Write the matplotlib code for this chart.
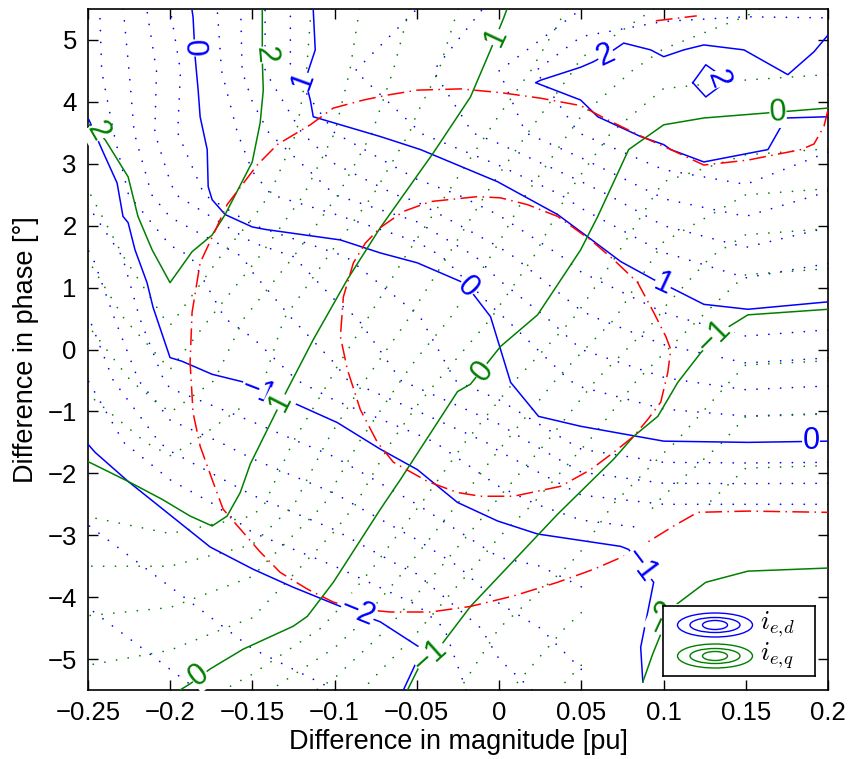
import numpy as np
import matplotlib
matplotlib.use("Agg")
import matplotlib.pyplot as plt
from matplotlib.patches import Ellipse

plt.rcParams['font.family'] = ['Liberation Sans', 'DejaVu Sans']
plt.rcParams['mathtext.fontset'] = 'cm'

# ---------------- data: solid contour lines ----------------
# blue  (i_e,d)
bd_m2_x = [-0.25, -0.2457, -0.2256, -0.1757, -0.1495, -0.1252, -0.0965, -0.0722, -0.0466, -0.0582]
bd_m2_y = [-1.53, -1.66, -2.13, -3.19, -3.55, -3.84, -4.15, -4.40, -4.84, -5.50]

bd_m1_x = [-0.2494, -0.2415, -0.2323, -0.2287, -0.2256, -0.2214, -0.2141, -0.2104, -0.2001, -0.1928,
           -0.1745, -0.1562, -0.1361, -0.0984, -0.0722, -0.0497, -0.0253, -0.0009, 0.0234, 0.0740,
           0.0788, 0.0940, 0.0861, 0.0874]
bd_m1_y = [3.71, 3.23, 2.69, 2.15, 2.05, 1.61, 1.08, 0.68, -0.13, -0.19,
           -0.40, -0.52, -0.73, -1.18, -1.61, -1.94, -2.47, -2.77, -2.98, -3.18,
           -3.23, -3.76, -4.81, -5.37]

bd_0_x = [-0.1867, -0.1861, -0.1848, -0.1830, -0.1818, -0.1775, -0.1769, -0.1745, -0.1666, -0.1501,
          -0.1422, -0.0965, -0.0722, -0.0497, -0.0235, -0.0156, -0.0052, 0.0070, 0.0240, 0.0496,
          0.1001, 0.1513, 0.2]
bd_0_y = [5.48, 5.37, 4.71, 4.19, 3.76, 3.23, 2.63, 2.42, 2.18, 1.98,
          1.94, 1.77, 1.56, 1.40, 1.10, 0.89, 0.53, -0.53, -1.08, -1.24,
          -1.48, -1.50, -1.48]

bd_1_x = [-0.1130, -0.1118, -0.1179, -0.1148, -0.1130, -0.0722, -0.0478, -0.0009, 0.0356, 0.0539,
          0.0740, 0.0940, 0.1044, 0.1245, 0.1513, 0.2]
bd_1_y = [5.48, 4.84, 4.35, 4.03, 3.76, 3.44, 3.23, 2.71, 2.18, 1.82,
          1.42, 1.13, 1.00, 0.73, 0.65, 0.77]

bd_2_x = [0.2, 0.1915, 0.1756, 0.1489, 0.1245, 0.1123, 0.1001, 0.0922, 0.0758, 0.0697,
          0.0648, 0.0575, 0.0496, 0.0252, 0.0222, 0.0496, 0.0600, 0.0861, 0.1001, 0.1044,
          0.1245, 0.1635, 0.1744, 0.2]
bd_2_y = [5.08, 4.81, 4.44, 4.84, 4.92, 4.84, 4.73, 4.84, 4.95, 4.84,
          4.76, 4.65, 4.56, 4.35, 4.31, 4.03, 3.76, 3.44, 3.31, 3.23,
          3.03, 3.23, 3.74, 3.76]

bd_2i_x = [0.1178, 0.1257, 0.1391, 0.1257, 0.1178]
bd_2i_y = [4.31, 4.60, 4.35, 4.08, 4.31]

# green (i_e,q)
gq_2_x = [-0.25, -0.2396, -0.2256, -0.2196, -0.2110, -0.2001, -0.1867, -0.1745, -0.1666, -0.1501,
          -0.1453, -0.1434, -0.1440, -0.1440]
gq_2_y = [3.65, 3.39, 2.79, 2.15, 1.61, 1.08, 1.58, 1.85, 2.18, 3.03,
          3.66, 4.19, 4.68, 5.48]

gq_1_x = [-0.25, -0.2256, -0.2049, -0.1879, -0.1745, -0.1654, -0.1574, -0.1513, -0.1349, -0.1288,
          -0.1130, -0.0923, -0.0722, -0.0399, -0.0174, -0.0052, 0.0027, 0.0045]
gq_1_y = [-1.81, -2.13, -2.42, -2.69, -2.85, -2.69, -2.31, -1.85, -0.97, -0.65,
          0.16, 1.13, 1.97, 3.18, 4.08, 4.84, 5.35, 5.48]

gq_0_x = [-0.1940, -0.1879, -0.1757, -0.1556, -0.1252, -0.1166, -0.1008, -0.0722, -0.0600, -0.0253,
          -0.0174, 0.0009, 0.0234, 0.0496, 0.0600, 0.0788, 0.1001, 0.1245, 0.2]
gq_0_y = [-5.50, -5.40, -5.16, -4.84, -4.47, -4.31, -3.76, -2.58, -2.10, -0.68,
          -0.56, 0.05, 0.56, 1.61, 2.15, 3.23, 3.63, 3.74, 3.90]

gq_m1_x = [-0.0557, -0.0478, -0.0357, -0.0174, 0.0356, 0.0697, 0.0819, 0.0965, 0.1087, 0.1227,
           0.1367, 0.1513, 0.2]
gq_m1_y = [-5.50, -5.08, -4.79, -4.15, -2.66, -1.77, -1.40, -1.08, -0.53, -0.05,
           0.32, 0.56, 0.65]

gq_m2_x = [0.0874, 0.0934, 0.0995, 0.1062, 0.1257, 0.1513, 0.2]
gq_m2_y = [-5.37, -4.92, -4.52, -4.15, -3.76, -3.58, -3.53]

# red dash-dot curves
red_outer_x = [0.2, 0.1976, 0.1915, 0.1836, 0.1513, 0.1245, 0.1044, 0.0861, 0.0660, 0.0496,
               0.0252, 0.0009, -0.0235, -0.0497, -0.0679, -0.0825, -0.1008, -0.1148, -0.1349, -0.1471,
               -0.1654, -0.1739, -0.1818, -0.1867, -0.1879, -0.1861, -0.1818, -0.1745, -0.1678, -0.1574,
               -0.1453, -0.1331, -0.1166, -0.1008, -0.0862, -0.0661, -0.0417, -0.0174, 0.0088, 0.0356,
               0.0575, 0.0758, 0.0904, 0.1062, 0.1208, 0.1513, 0.2]
red_outer_y = [3.87, 3.61, 3.32, 3.23, 3.06, 2.98, 3.23, 3.45, 3.71, 3.94,
               4.06, 4.15, 4.21, 4.19, 4.11, 4.03, 3.90, 3.63, 3.31, 2.98,
               2.34, 1.85, 1.40, 0.60, -0.21, -1.02, -1.56, -2.10, -2.58, -2.90,
               -3.27, -3.60, -3.87, -4.08, -4.19, -4.24, -4.24, -4.15, -3.98, -3.76,
               -3.55, -3.34, -3.11, -2.85, -2.63, -2.61, -2.63]

red_inner_x = [-0.0722, -0.0582, -0.0417, -0.0131, 0.0009, 0.0173, 0.0356, 0.0514, 0.0557, 0.0697,
               0.0843, 0.0940, 0.1014, 0.1044, 0.1026, 0.0983, 0.0904, 0.0819, 0.0697, 0.0557,
               0.0374, 0.0088, -0.0113, -0.0253, -0.0436, -0.0643, -0.0740, -0.0844, -0.0923, -0.0965,
               -0.0947, -0.0886, -0.0813, -0.0722]
red_inner_y = [1.97, 2.23, 2.39, 2.47, 2.45, 2.34, 2.15, 1.85, 1.77, 1.45,
               1.08, 0.60, 0.21, 0.00, -0.37, -0.85, -1.13, -1.40, -1.66, -1.94,
               -2.21, -2.37, -2.37, -2.31, -2.13, -1.82, -1.50, -0.97, -0.32, 0.21,
               0.85, 1.40, 1.72, 1.97]

red_top_x = [0.0953, 0.1202]
red_top_y = [5.31, 5.39]

# ---------------- data: coarse fields for the dotted contour levels ----------------
grid_x = [-0.25, -0.2, -0.15, -0.1, -0.05, 0.0, 0.05, 0.1, 0.15, 0.2]
grid_y = [5.5, 4.5, 3.5, 2.5, 1.5, 0.5, -0.5, -1.5, -2.5, -3.5, -4.5, -5.5]
nan = np.nan
blue_grid = [
    [-0.9, -0.2, 0.5, 1.15, 1.2, 1.45, 1.6, 1.7, 1.75, 1.75],
    [-0.9, -0.3, 0.5, 1.15, 1.35, 1.6, 2.05, 2.2, 2.15, 2.1],
    [-1.05, -0.25, 0.3, 0.8, 1.19, 1.5, 1.81, 2.05, 2.1, 1.9],
    [-1.15, -0.44, 0.14, 0.4, 0.67, 0.93, 1.29, 1.63, 1.74, 1.58],
    [-1.43, -0.88, -0.56, -0.24, 0.05, 0.54, 0.88, 1.17, 1.34, 1.24],
    [-1.61, -0.96, -0.72, -0.47, -0.22, 0.17, 0.56, 0.76, 0.93, 0.88],
    [-1.8, -1.15, -0.98, -0.65, -0.34, -0.04, 0.24, 0.38, 0.47, 0.44],
    [-2.0, -1.54, -1.31, -1.12, -0.87, -0.55, -0.14, -0.01, 0.0, -0.01],
    [-2.15, -1.97, -1.65, -1.46, -1.2, -0.9, -0.68, -0.6, -0.6, -0.6],
    [-2.3, -2.15, -1.98, -1.8, -1.55, -1.25, -1.15, nan, nan, nan],
    [-2.45, -2.3, -2.15, -2.05, -1.95, -1.5, -1.3, nan, nan, nan],
    [-2.6, -2.45, -2.3, -2.2, -1.95, -1.7, -1.45, nan, nan, nan],
]
green_grid = [
    [2.3, 2.3, 2.05, 1.7, 1.37, 1.03, 0.75, 0.58, 0.42, 0.3],
    [2.25, 2.3, 2.05, 1.67, 1.29, 0.95, 0.56, 0.3, 0.25, 0.22],
    [1.97, 2.2, 2.03, 1.6, 1.16, 0.74, 0.34, -0.05, -0.09, -0.12],
    [1.79, 2.1, 1.9, 1.42, 0.95, 0.53, 0.13, -0.24, -0.4, -0.43],
    [1.61, 2.05, 1.64, 1.16, 0.74, 0.36, -0.02, -0.45, -0.71, -0.74],
    [1.42, 1.83, 1.35, 0.96, 0.56, 0.16, -0.24, -0.63, -1.02, -1.05],
    [1.24, 1.55, 1.27, 0.77, 0.31, -0.12, -0.53, -0.93, -1.26, -1.27],
    [1.06, 1.26, 1.04, 0.55, 0.04, -0.37, -0.77, -1.15, -1.5, -1.51],
    [0.85, 0.98, 0.88, 0.33, -0.18, -0.63, -1.05, -1.44, -1.74, -1.75],
    [0.6, 0.6, 0.45, 0.03, -0.45, -0.95, -1.25, nan, nan, nan],
    [0.35, 0.3, 0.15, -0.27, -0.78, -1.2, -1.45, nan, nan, nan],
    [0.1, 0.02, -0.32, -0.68, -1.04, -1.35, -1.7, nan, nan, nan],
]
blue_dot_levels = [-2.4, -2.2, -1.8, -1.6, -1.4, -1.2, -0.8, -0.6, -0.4, -0.2,
                   0.2, 0.4, 0.6, 0.8, 1.2, 1.4, 1.6, 1.8]
green_dot_levels = [-1.8, -1.6, -1.4, -1.2, -0.8, -0.6, -0.4, -0.2,
                    0.2, 0.4, 0.6, 0.8, 1.2, 1.4, 1.6, 1.8]

# contour labels: (text, series, x, y, rotation)
clabels = [
    ("\u22122", "d", -0.086, -4.24, -22),
    ("\u22121", "d", -0.1465, -0.68, -21),
    ("\u22121", "d", 0.0861, -3.48, -53),
    ("0", "d", -0.1861, 4.87, -88),
    ("0", "d", -0.0192, 1.00, -45),
    ("0", "d", 0.1897, -1.48, 0),
    ("1", "d", -0.1191, 4.35, 70),
    ("1", "d", 0.0995, 1.05, -25),
    ("2", "d", 0.0648, 4.76, 25),
    ("2", "d", 0.1330, 4.37, -70),
    ("2", "q", -0.2439, 3.52, -60),
    ("2", "q", -0.1422, 4.76, -85),
    ("1", "q", -0.1331, -0.84, 63),
    ("1", "q", -0.0022, 5.05, 65),
    ("0", "q", -0.1824, -5.27, 37),
    ("0", "q", -0.0101, -0.35, 52),
    ("0", "q", 0.1696, 3.82, 3),
    ("\u22121", "q", -0.0417, -4.95, 42),
    ("\u22121", "q", 0.1306, 0.21, 45),
    ("\u22122", "q", 0.1001, -4.32, 65),
]

xticks = [-0.25, -0.2, -0.15, -0.1, -0.05, 0, 0.05, 0.1, 0.15, 0.2]
xtick_labels = ["\u22120.25", "\u22120.2", "\u22120.15", "\u22120.1", "\u22120.05", "0",
                "0.05", "0.1", "0.15", "0.2"]
yticks = [-5, -4, -3, -2, -1, 0, 1, 2, 3, 4, 5]
ytick_labels = ["\u22125", "\u22124", "\u22123", "\u22122", "\u22121", "0", "1", "2", "3", "4", "5"]

BLUE = "#0000ff"
GREEN = "#008000"
RED = "#ff0000"
col = {"d": BLUE, "q": GREEN}

# ---------------- figure ----------------
fig = plt.figure(figsize=(8.5, 7.59), dpi=100)
ax = fig.add_axes([0.1035, 0.0909, 0.8706, 0.8972])

X, Y = np.meshgrid(grid_x, grid_y)
Bz = np.ma.masked_invalid(np.array(blue_grid))
Gz = np.ma.masked_invalid(np.array(green_grid))
dot_style = (0, (0.1, 7))
cb = ax.contour(X, Y, Bz, levels=blue_dot_levels, colors=BLUE, linewidths=1.2)
cb.set_linestyle(dot_style)
cb.set_capstyle('round')
cg = ax.contour(X, Y, Gz, levels=green_dot_levels, colors=GREEN, linewidths=1.2)
cg.set_linestyle(dot_style)
cg.set_capstyle('round')

for xs, ys in [(bd_m2_x, bd_m2_y), (bd_m1_x, bd_m1_y), (bd_0_x, bd_0_y), (bd_1_x, bd_1_y),
               (bd_2_x, bd_2_y), (bd_2i_x, bd_2i_y)]:
    ax.plot(xs, ys, color=BLUE, lw=1.1, zorder=3)
for xs, ys in [(gq_2_x, gq_2_y), (gq_1_x, gq_1_y), (gq_0_x, gq_0_y), (gq_m1_x, gq_m1_y),
               (gq_m2_x, gq_m2_y)]:
    ax.plot(xs, ys, color=GREEN, lw=1.1, zorder=3)

red_ls = (0, (11, 3.5, 1, 3.5))
for xs, ys in [(red_outer_x, red_outer_y), (red_inner_x, red_inner_y), (red_top_x, red_top_y)]:
    ax.plot(xs, ys, color=RED, lw=1.1, linestyle=red_ls, zorder=4)

for txt, s, x, y, rot in clabels:
    ax.text(x, y, txt, color=col[s], fontsize=22, rotation=rot, rotation_mode='anchor',
            ha='center', va='center', zorder=5,
            bbox=dict(facecolor='white', edgecolor='none', pad=0.1))

ax.set_xlim(-0.25, 0.2)
ax.set_ylim(-5.5, 5.5)
ax.set_xticks(xticks)
ax.set_xticklabels(xtick_labels)
ax.set_yticks(yticks)
ax.set_yticklabels(ytick_labels)
ax.tick_params(direction='in', top=True, right=True, length=7, width=1.0, labelsize=18.5, pad=8)
for sp in ax.spines.values():
    sp.set_linewidth(1.2)
ax.set_xlabel("Difference in magnitude [pu]", fontsize=19.5, labelpad=3)
ax.set_ylabel("Difference in phase [\u00b0]", fontsize=19.5, labelpad=6)

# legend box
lax = fig.add_axes([663 / 850, 1 - 676 / 759, 152 / 850, 70 / 759], zorder=10)
lax.set_xlim(0, 152)
lax.set_ylim(70, 0)
lax.set_xticks([])
lax.set_yticks([])
for sp in lax.spines.values():
    sp.set_linewidth(1.2)
for cy, c in [(19, BLUE), (50, GREEN)]:
    for w, h in [(75, 24), (50, 15), (25, 9)]:
        lax.add_patch(Ellipse((52, cy), w, h, fill=False, edgecolor=c, lw=1.0))
lax.text(97, 18, r"$i_{e,\!d}$", fontsize=19, va='center', ha='left')
lax.text(97, 50, r"$i_{e,\!q}$", fontsize=19, va='center', ha='left')

fig.savefig("out.png", dpi=100)
